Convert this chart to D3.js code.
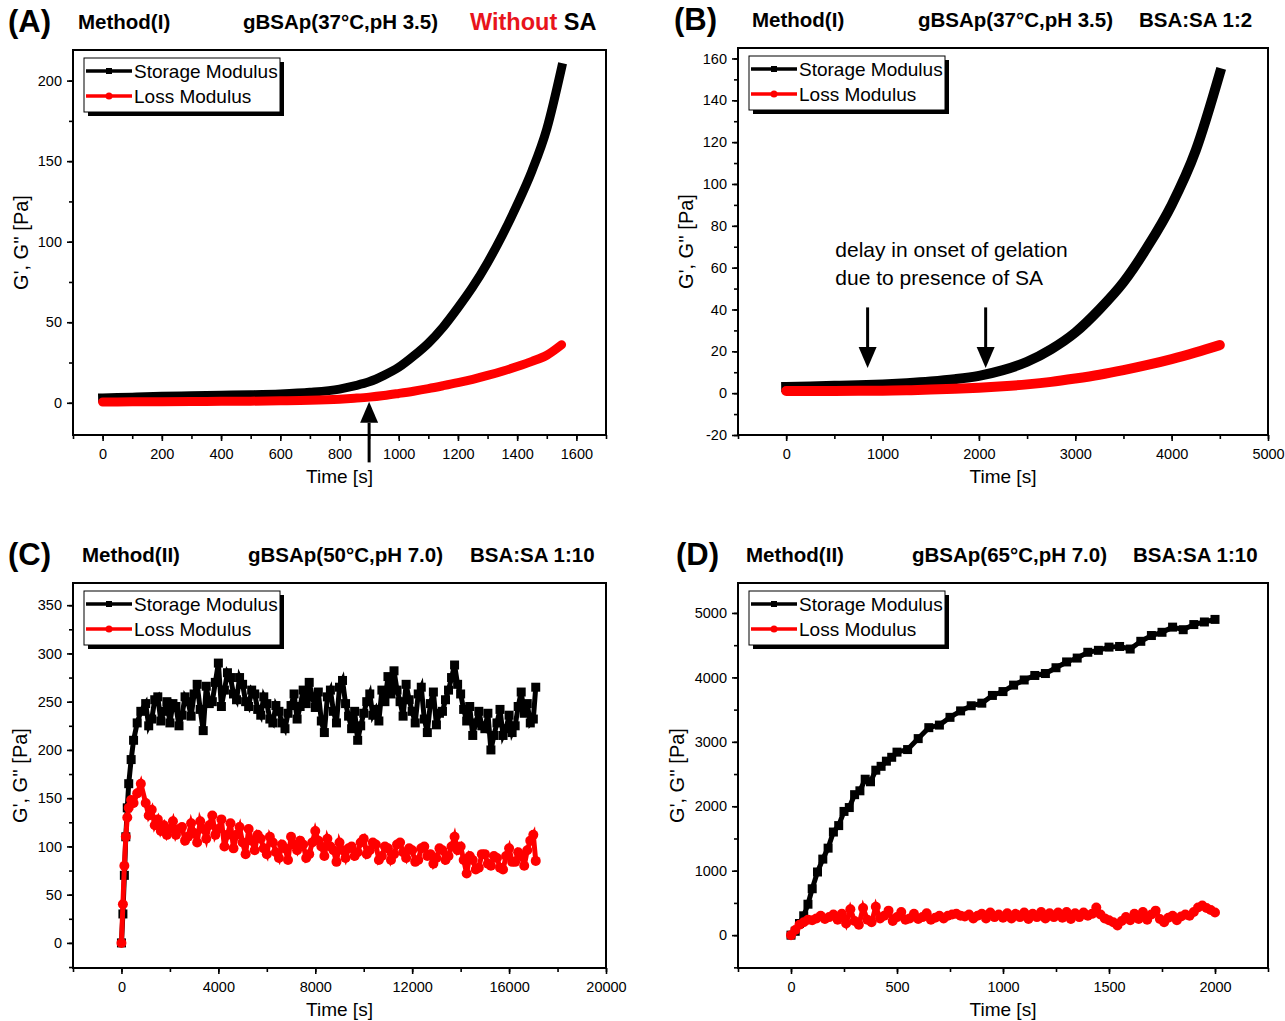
<!DOCTYPE html>
<html>
<head>
<meta charset="utf-8">
<title>Storage and loss modulus</title>
<script src="https://d3js.org/d3.v7.min.js"></script>
<style>
body { margin: 0; padding: 0; background: #fff; }
svg text { font-family: 'Liberation Sans', Arial, sans-serif; fill: #000; }
</style>
</head>
<body>
<div id="chart"></div>
<script>
// values

// (A) Method(I), without SA
var timeA    = [0, 100, 200, 300, 400, 500, 600, 700, 800, 850, 900, 950, 1000, 1050, 1100, 1150, 1200, 1250, 1300, 1350, 1400, 1450, 1500, 1550];
var storageA = [3, 3.5, 4, 4.3, 4.7, 5, 5.5, 6.5, 8.5, 10.5, 13, 17, 22, 29, 37, 47, 59, 72, 87, 104, 123, 144, 170, 208];
var lossA    = [0.5, 0.6, 0.7, 0.8, 0.9, 1.0, 1.2, 1.5, 2.2, 2.8, 3.5, 4.5, 5.8, 7.2, 8.8, 10.6, 12.5, 14.6, 17, 19.6, 22.5, 25.7, 29.5, 36];

// (B) Method(I), BSA:SA 1:2
var timeB    = [0, 250, 500, 750, 1000, 1250, 1500, 1750, 2000, 2250, 2500, 2750, 3000, 3250, 3500, 3750, 4000, 4250, 4500];
var storageB = [3, 3.2, 3.5, 3.8, 4.2, 4.8, 5.6, 6.7, 8.3, 11, 15, 21, 29, 40, 53, 70, 90, 116, 153];
var lossB    = [1, 1, 1, 1.1, 1.2, 1.4, 1.7, 2.1, 2.6, 3.3, 4.2, 5.4, 7, 8.8, 11, 13.5, 16.3, 19.5, 23];

// (C) Method(II), 50 C
var timeC = [0, 60, 120, 180, 240, 300, 400, 500, 650, 800,
  1000, 1125, 1250, 1375, 1500, 1625, 1750, 1875, 2000, 2125, 2250, 2375, 2500, 2625, 2750, 2875,
  3000, 3125, 3250, 3375, 3500, 3625, 3750, 3875, 4000, 4125, 4250, 4375, 4500, 4625, 4750, 4875,
  5000, 5125, 5250, 5375, 5500, 5625, 5750, 5875, 6000, 6125, 6250, 6375, 6500, 6625, 6750, 6875,
  7000, 7125, 7250, 7375, 7500, 7625, 7750, 7875, 8000, 8125, 8250, 8375, 8500, 8625, 8750, 8875,
  9000, 9125, 9250, 9375, 9500, 9625, 9750, 9875, 10000, 10125, 10250, 10375, 10500, 10625, 10750, 10875,
  11000, 11125, 11250, 11375, 11500, 11625, 11750, 11875, 12000, 12125, 12250, 12375, 12500, 12625, 12750, 12875,
  13000, 13125, 13250, 13375, 13500, 13625, 13750, 13875, 14000, 14125, 14250, 14375, 14500, 14625, 14750, 14875,
  15000, 15125, 15250, 15375, 15500, 15625, 15750, 15875, 16000, 16125, 16250, 16375, 16500, 16625, 16750, 16875,
  17000, 17100];
var storageC = [0, 30, 70, 110, 140, 165, 190, 210, 228, 240,
  248, 225, 232, 252, 255, 230, 240, 250, 228, 248, 245, 225, 236, 255, 250, 235,
  258, 268, 242, 220, 266, 248, 250, 270, 290, 245, 262, 280, 275, 258, 252, 275,
  268, 250, 245, 262, 258, 242, 236, 255, 248, 232, 228, 246, 240, 228, 222, 238,
  246, 258, 232, 245, 262, 248, 270, 255, 244, 260, 230, 218, 255, 262, 240, 228,
  265, 272, 248, 235, 222, 240, 210, 225, 238, 250, 258, 236, 242, 230, 262, 250,
  276, 258, 282, 262, 250, 235, 268, 252, 240, 228, 258, 265, 232, 218, 248, 260,
  226, 238, 240, 252, 262, 275, 288, 268, 258, 242, 230, 245, 215, 228, 240, 225,
  222, 238, 200, 215, 228, 242, 215, 222, 236, 218, 225, 245, 260, 238, 248, 228,
  232, 265];
var lossC = [0, 40, 80, 110, 130, 140, 148, 145, 155, 165,
  145, 132, 138, 122, 128, 116, 122, 112, 118, 126, 112, 118, 120, 106, 110, 124,
  114, 104, 126, 118, 108, 122, 132, 112, 118, 128, 100, 112, 124, 98, 112, 120,
  104, 92, 118, 106, 96, 112, 108, 98, 92, 110, 104, 94, 88, 102, 98, 86,
  110, 102, 96, 106, 102, 88, 92, 104, 116, 106, 100, 90, 108, 100, 96, 84,
  104, 96, 88, 98, 100, 90, 94, 104, 108, 92, 96, 104, 102, 86, 90, 100,
  98, 86, 92, 102, 104, 94, 88, 98, 96, 84, 86, 98, 100, 90, 92, 82,
  88, 98, 96, 86, 90, 100, 110, 96, 100, 86, 72, 90, 86, 76, 78, 92,
  92, 82, 80, 90, 88, 78, 76, 90, 98, 84, 84, 94, 90, 80, 96, 106,
  112, 85];

// (D) Method(II), 65 C
var timeD = [0, 20, 40, 60, 80, 100, 125, 150, 175, 200, 225, 250, 275, 300, 325, 350, 375, 400, 425, 450, 475, 500,
  550, 600, 650, 700, 750, 800, 850, 900, 950, 1000, 1050, 1100, 1150, 1200, 1250, 1300, 1350, 1400,
  1450, 1500, 1550, 1600, 1650, 1700, 1750, 1800, 1850, 1900, 1950, 2000];
var storageD = [0, 60, 180, 300, 480, 720, 980, 1180, 1350, 1600, 1700, 1920, 1980, 2180, 2240, 2420, 2380, 2560, 2620, 2700, 2760, 2840,
  2880, 3050, 3220, 3260, 3380, 3480, 3560, 3600, 3720, 3780, 3880, 3960, 4030, 4060, 4150, 4240, 4300, 4390,
  4420, 4470, 4480, 4440, 4560, 4650, 4700, 4780, 4740, 4820, 4860, 4900];
var timeDLoss = [0, 20, 40, 60, 80, 100, 120, 140, 160, 180, 200, 220, 240, 260, 280, 300, 320, 340, 360, 380,
  400, 420, 440, 460, 480, 500, 520, 540, 560, 580, 600, 620, 640, 660, 680, 700, 720, 740, 760, 780,
  800, 820, 840, 860, 880, 900, 920, 940, 960, 980, 1000, 1020, 1040, 1060, 1080, 1100, 1120, 1140, 1160, 1180,
  1200, 1220, 1240, 1260, 1280, 1300, 1320, 1340, 1360, 1380, 1400, 1420, 1440, 1460, 1480, 1500, 1520, 1540, 1560, 1580,
  1600, 1620, 1640, 1660, 1680, 1700, 1720, 1740, 1760, 1780, 1800, 1820, 1840, 1860, 1880, 1900, 1920, 1940, 1960, 1980, 2000];
var lossD = [0, 80, 160, 200, 240, 230, 260, 300, 250, 280,
  320, 240, 330, 180, 400, 220, 160, 420, 240, 200,
  440, 260, 300, 380, 220, 280, 360, 240, 260, 330,
  250, 280, 340, 240, 270, 300, 260, 300, 320, 330,
  300, 290, 320, 260, 300, 330, 260, 350, 280, 320,
  270, 340, 260, 330, 280, 350, 250, 330, 280, 360,
  260, 340, 280, 350, 270, 360, 250, 340, 280, 350,
  300, 330, 430, 320, 260, 230, 200, 150, 220, 280,
  230, 330, 250, 360, 240, 320, 380, 250, 200, 270,
  300, 230, 290, 320, 300, 360, 430, 460, 420, 390, 350];

// tick labels
var xTicksA = [0, 200, 400, 600, 800, 1000, 1200, 1400, 1600];
var yTicksA = [0, 50, 100, 150, 200];
var xTicksB = [0, 1000, 2000, 3000, 4000, 5000];
var yTicksB = [-20, 0, 20, 40, 60, 80, 100, 120, 140, 160];
var xTicksC = [0, 4000, 8000, 12000, 16000, 20000];
var yTicksC = [0, 50, 100, 150, 200, 250, 300, 350];
var xTicksD = [0, 500, 1000, 1500, 2000];
var yTicksD = [0, 1000, 2000, 3000, 4000, 5000];

var legendNames = ['Storage Modulus', 'Loss Modulus'];
var noteB = ['delay in onset of gelation', 'due to presence of SA'];

var FONT = "'Liberation Sans', Arial, sans-serif";

var svg = d3.select('#chart').append('svg')
  .attr('width', 1285).attr('height', 1021)
  .style('display', 'block');

var panels = [
  { label: '(A)', lx: 8, x0: 73, x1: 606, y0: 50, y1: 435, xDom: [-100, 1700], yDom: [-20, 219],
    xTicks: xTicksA, yTicks: yTicksA, xMinorStep: 100, yMinorStep: 25, ylabOff: 45, kind: 'band', bw: 9,
    s: [timeA, storageA], l: [timeA, lossA],
    titles: [{ t: 'Method(I)', x: 78 }, { t: 'gBSAp(37°C,pH 3.5)', x: 243 }],
    tag: [{ t: 'Without', c: '#e8141c' }, { t: ' SA', c: '#000' }], tagX: 470,
    arrows: [{ t: 900, from: -37, to: 0.6 }] },
  { label: '(B)', lx: 674, x0: 738, x1: 1268, y0: 48, y1: 435, xDom: [-500, 5000], yDom: [-20, 165],
    xTicks: xTicksB, yTicks: yTicksB, xMinorStep: 500, yMinorStep: 10, ylabOff: 45, kind: 'band', bw: 10,
    s: [timeB, storageB], l: [timeB, lossB],
    titles: [{ t: 'Method(I)', x: 752 }, { t: 'gBSAp(37°C,pH 3.5)', x: 918 }, { t: 'BSA:SA 1:2', x: 1139 }],
    arrows: [{ t: 845, from: 41, to: 12 }, { t: 2070, from: 41, to: 12 }],
    note: { t: 510, v: 65, lines: noteB } },
  { label: '(C)', lx: 8, x0: 73, x1: 606, y0: 583, y1: 968, xDom: [-2000, 20000], yDom: [-26, 373],
    xTicks: xTicksC, yTicks: yTicksC, xMinorStep: 2000, yMinorStep: 25, ylabOff: 46, kind: 'marker',
    s: [timeC, storageC], l: [timeC, lossC],
    titles: [{ t: 'Method(II)', x: 82 }, { t: 'gBSAp(50°C,pH 7.0)', x: 248 }, { t: 'BSA:SA 1:10', x: 470 }] },
  { label: '(D)', lx: 676, x0: 738, x1: 1268, y0: 583, y1: 968, xDom: [-250, 2250], yDom: [-510, 5465],
    xTicks: xTicksD, yTicks: yTicksD, xMinorStep: 250, yMinorStep: 500, ylabOff: 54, kind: 'marker',
    s: [timeD, storageD], l: [timeDLoss, lossD],
    titles: [{ t: 'Method(II)', x: 746 }, { t: 'gBSAp(65°C,pH 7.0)', x: 912 }, { t: 'BSA:SA 1:10', x: 1133 }] }
];

panels.forEach(drawPanel);

function minorTicks(dom, step) {
  var lo = Math.ceil(dom[0] / step) * step;
  return d3.range(lo, dom[1] + 1e-9, step);
}

function styleAxis(a) {
  a.select('.domain').remove();
  a.attr('font-family', FONT).attr('font-size', 14.5);
  a.selectAll('line').attr('stroke', '#000').attr('stroke-width', 1.6);
  a.selectAll('text').attr('fill', '#000');
}

function drawPanel(p) {
  var g = svg.append('g');
  var x = d3.scaleLinear().domain(p.xDom).range([p.x0, p.x1]);
  var y = d3.scaleLinear().domain(p.yDom).range([p.y1, p.y0]);

  // header
  var ty = p.y0 - 21;
  g.append('text').attr('x', p.lx).attr('y', ty + 3)
    .attr('font-size', 31).attr('font-weight', 'bold').text(p.label);
  p.titles.forEach(function (d) {
    g.append('text').attr('x', d.x).attr('y', ty).attr('font-size', 20.5).attr('font-weight', 'bold').text(d.t);
  });
  if (p.tag) {
    var tt = g.append('text').attr('x', p.tagX).attr('y', ty + 1).attr('font-size', 23.5).attr('font-weight', 'bold');
    p.tag.forEach(function (d) { tt.append('tspan').style('fill', d.c).text(d.t); });
  }

  // series
  var line = d3.line().x(function (d) { return x(d[0]); }).y(function (d) { return y(d[1]); });
  var sPts = d3.zip(p.s[0], p.s[1]);
  var lPts = d3.zip(p.l[0], p.l[1]);
  if (p.kind == 'band') {
    line.curve(d3.curveMonotoneX);
    g.append('path').datum(sPts).attr('d', line).attr('fill', 'none')
      .attr('stroke', '#000').attr('stroke-width', p.bw).attr('stroke-linejoin', 'round').attr('stroke-linecap', 'square');
    g.append('path').datum(lPts).attr('d', line).attr('fill', 'none')
      .attr('stroke', '#f00').attr('stroke-width', p.bw).attr('stroke-linejoin', 'round').attr('stroke-linecap', 'round');
  } else {
    g.append('path').datum(sPts).attr('d', line).attr('fill', 'none').attr('stroke', '#000').attr('stroke-width', 5);
    g.append('g').selectAll('rect').data(sPts).join('rect')
      .attr('x', function (d) { return x(d[0]) - 4.5; }).attr('y', function (d) { return y(d[1]) - 4.5; })
      .attr('width', 9).attr('height', 9).attr('fill', '#000');
    g.append('path').datum(lPts).attr('d', line).attr('fill', 'none').attr('stroke', '#f00').attr('stroke-width', 5);
    g.append('g').selectAll('circle').data(lPts).join('circle')
      .attr('cx', function (d) { return x(d[0]); }).attr('cy', function (d) { return y(d[1]); })
      .attr('r', 5).attr('fill', '#f00');
  }

  // frame
  g.append('rect').attr('x', p.x0).attr('y', p.y0).attr('width', p.x1 - p.x0).attr('height', p.y1 - p.y0)
    .attr('fill', 'none').attr('stroke', '#000').attr('stroke-width', 2);

  // axes
  var xa = g.append('g').attr('transform', 'translate(0,' + p.y1 + ')')
    .call(d3.axisBottom(x).tickValues(p.xTicks).tickSizeInner(6).tickSizeOuter(0).tickPadding(8).tickFormat(String));
  styleAxis(xa);
  var xm = g.append('g').attr('transform', 'translate(0,' + p.y1 + ')')
    .call(d3.axisBottom(x).tickValues(minorTicks(p.xDom, p.xMinorStep)).tickSizeInner(4).tickSizeOuter(0).tickFormat(''));
  styleAxis(xm);
  var ya = g.append('g').attr('transform', 'translate(' + p.x0 + ',0)')
    .call(d3.axisLeft(y).tickValues(p.yTicks).tickSizeInner(6).tickSizeOuter(0).tickPadding(5).tickFormat(String));
  styleAxis(ya);
  var ym = g.append('g').attr('transform', 'translate(' + p.x0 + ',0)')
    .call(d3.axisLeft(y).tickValues(minorTicks(p.yDom, p.yMinorStep)).tickSizeInner(4).tickSizeOuter(0).tickFormat(''));
  styleAxis(ym);

  // axis titles
  g.append('text').attr('x', (p.x0 + p.x1) / 2).attr('y', p.y1 + 48).attr('text-anchor', 'middle')
    .attr('font-size', 19).text('Time [s]');
  g.append('text').attr('transform', 'translate(' + (p.x0 - p.ylabOff) + ',' + ((p.y0 + p.y1) / 2) + ') rotate(-90)')
    .attr('text-anchor', 'middle').attr('font-size', 20).text("G', G'' [Pa]");

  // arrows
  (p.arrows || []).forEach(function (a) {
    var ax = x(a.t), yTip = y(a.to), yTail = y(a.from);
    var dir = yTail > yTip ? 1 : -1;
    var hl = 21, hw = 9;
    g.append('line').attr('x1', ax).attr('x2', ax).attr('y1', yTail).attr('y2', yTip + dir * hl)
      .attr('stroke', '#000').attr('stroke-width', 3);
    g.append('path').attr('d', 'M' + ax + ',' + yTip + 'L' + (ax - hw) + ',' + (yTip + dir * hl) + 'L' + (ax + hw) + ',' + (yTip + dir * hl) + 'Z')
      .attr('fill', '#000');
  });

  if (p.note) {
    var nt = g.append('text').attr('x', x(p.note.t)).attr('y', y(p.note.v)).attr('font-size', 21);
    p.note.lines.forEach(function (s, i) {
      nt.append('tspan').attr('x', x(p.note.t)).attr('dy', i ? 28 : 0).text(s);
    });
  }

  // legend
  var lx = p.x0 + 11, ly = p.y0 + 8, lw = 196, lh = 54;
  var lg = g.append('g');
  lg.append('rect').attr('x', lx + 4).attr('y', ly + 4).attr('width', lw).attr('height', lh).attr('fill', '#000');
  lg.append('rect').attr('x', lx).attr('y', ly).attr('width', lw).attr('height', lh)
    .attr('fill', '#fff').attr('stroke', '#000').attr('stroke-width', 1);
  legendNames.forEach(function (name, i) {
    var ry = ly + 13 + i * 25;
    var col = i ? '#f00' : '#000';
    lg.append('line').attr('x1', lx + 2).attr('x2', lx + 48).attr('y1', ry).attr('y2', ry)
      .attr('stroke', col).attr('stroke-width', 3.5);
    if (i) lg.append('circle').attr('cx', lx + 25).attr('cy', ry).attr('r', 3.5).attr('fill', col);
    else lg.append('rect').attr('x', lx + 22).attr('y', ry - 3).attr('width', 6).attr('height', 6).attr('fill', col);
    lg.append('text').attr('x', lx + 50).attr('y', ry + 7).attr('font-size', 19).text(name);
  });
}
</script>
</body>
</html>
